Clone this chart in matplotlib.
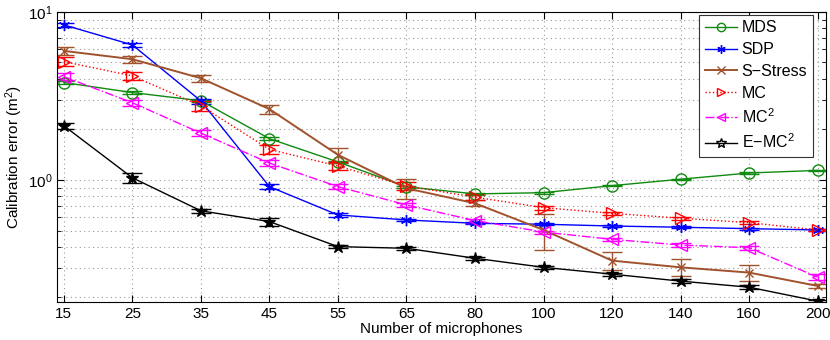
import matplotlib
matplotlib.use("Agg")
import matplotlib.pyplot as plt
import numpy as np
from matplotlib.lines import Line2D
from matplotlib.ticker import LogLocator, NullFormatter, LogFormatterMathtext

plt.rcParams['font.family'] = ['Liberation Sans', 'DejaVu Sans']
plt.rcParams['mathtext.fontset'] = 'custom'
plt.rcParams['mathtext.rm'] = 'Liberation Sans'
plt.rcParams['mathtext.it'] = 'Liberation Sans'

mics = ["15", "25", "35", "45", "55", "65", "80", "100", "120", "140", "160", "200"]

mds = [3.80, 3.31, 2.96, 1.76, 1.28, 0.91, 0.826, 0.84, 0.925, 1.01, 1.10, 1.14]
mds_err = [0.06, 0.05, 0.04, 0.03, 0.02, 0.01, 0.01, 0.01, 0.01, 0.01, 0.01, 0.01]

sdp = [8.37, 6.36, 2.95, 0.912, 0.619, 0.578, 0.552, 0.545, 0.532, 0.523, 0.513, 0.504]
sdp_err = [0.25, 0.2, 0.1, 0.03, 0.015, 0.01, 0.008, 0.008, 0.008, 0.008, 0.008, 0.008]

sstress = [5.86, 5.23, 4.03, 2.64, 1.41, 0.892, 0.726, 0.504, 0.331, 0.302, 0.281, 0.234]
sstress_err = [0.3, 0.25, 0.18, 0.16, 0.14, 0.12, 0.03, 0.12, 0.04, 0.035, 0.03, 0.005]

mc = [5.06, 4.16, 2.76, 1.52, 1.21, 0.92, 0.79, 0.684, 0.633, 0.592, 0.557, 0.504]
mc_err = [0.3, 0.25, 0.18, 0.1, 0.07, 0.05, 0.03, 0.02, 0.015, 0.012, 0.012, 0.008]

mc2 = [4.12, 2.88, 1.90, 1.26, 0.912, 0.71, 0.573, 0.49, 0.443, 0.41, 0.395, 0.264]
mc2_err = [0.2, 0.12, 0.08, 0.05, 0.03, 0.02, 0.015, 0.01, 0.01, 0.01, 0.01, 0.01]

emc2 = [2.10, 1.03, 0.655, 0.565, 0.401, 0.392, 0.342, 0.302, 0.275, 0.25, 0.23, 0.19]
emc2_err = [0.08, 0.07, 0.02, 0.03, 0.008, 0.008, 0.008, 0.006, 0.006, 0.006, 0.006, 0.004]

labels = ["MDS", "SDP", "S\u2212Stress", "MC", "MC$^2$", "E\u2212MC$^2$"]

x = np.arange(len(mics))

fig = plt.figure(figsize=(8.3, 3.4), dpi=100)
ax = fig.add_axes([0.0687, 0.112, 0.9263, 0.853])

styles = [
    dict(color="#108a10", marker="o", linestyle="-", mfc="none", ms=8, lw=1.0),
    dict(color="#0000ff", marker=(6, 2, 0), linestyle="-", ms=8, lw=1.0),
    dict(color="#a0522d", marker="x", linestyle="-", ms=6, lw=1.4),
    dict(color="#ff0000", marker=">", linestyle=":", mfc="none", ms=8, lw=1.0),
    dict(color="#ff00ff", marker="<", linestyle="-.", mfc="none", ms=8, lw=1.0),
    dict(color="#000000", marker="*", linestyle="-", ms=9, lw=1.0),
]
data = [mds, sdp, sstress, mc, mc2, emc2]
errs = [mds_err, sdp_err, sstress_err, mc_err, mc2_err, emc2_err]

handles = []
for label, y, e, st in zip(labels, data, errs, styles):
    ax.errorbar(x, y, yerr=e, capsize=7, elinewidth=1.0, capthick=1.0, **st)
    hs = dict(st)
    hs["ms"] = 6
    if hs["marker"] == "*":
        hs["mfc"] = "none"
        hs["ms"] = 7
    handles.append(Line2D([], [], label=label, **hs))

ax.set_yscale("log")
ax.set_ylim(0.188, 10)
ax.set_xlim(-0.1, 11.12)
ax.set_xticks(x)
ax.set_xticklabels(mics)
ax.yaxis.set_major_locator(LogLocator(base=10))
ax.yaxis.set_major_formatter(LogFormatterMathtext())
ax.yaxis.set_minor_locator(LogLocator(base=10, subs=np.arange(2, 10)))
ax.yaxis.set_minor_formatter(NullFormatter())

ax.grid(True, which="major", axis="both", linestyle=(0, (1, 3)), color="#999999", lw=0.8)
ax.grid(True, which="minor", axis="y", linestyle=(0, (1, 3)), color="#999999", lw=0.8)
ax.tick_params(which="both", direction="in", top=True, right=True, labelsize=11)
ax.tick_params(which="major", length=5)
ax.tick_params(which="minor", length=3)

ax.set_xlabel("Number of microphones", fontsize=11, labelpad=1)
ax.set_ylabel("Calibration error (m$^2$)", fontsize=11, labelpad=2)

leg = ax.legend(handles=handles, loc="upper right", bbox_to_anchor=(0.983, 0.99),
                fontsize=11.5, fancybox=False, edgecolor="#333333",
                framealpha=1, handlelength=2.0, handletextpad=0.3,
                borderaxespad=0.0, labelspacing=0.42, borderpad=0.35)
leg.get_frame().set_linewidth(0.8)

fig.savefig("out.png", dpi=100)
